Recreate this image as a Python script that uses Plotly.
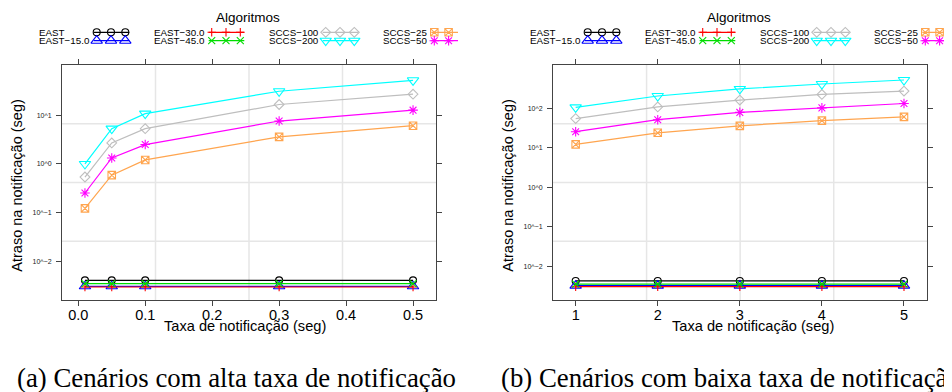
import plotly.graph_objects as go

# ---------------- data ----------------
series_names = ["EAST", "EAST-15.0", "EAST-30.0", "EAST-45.0",
                "SCCS-100", "SCCS-200", "SCCS-25", "SCCS-50"]
series_labels = ["EAST", "EAST\u221215.0", "EAST\u221230.0", "EAST\u221245.0",
                 "SCCS\u2212100", "SCCS\u2212200", "SCCS\u221225", "SCCS\u221250"]

x_high = [0.01, 0.05, 0.1, 0.3, 0.5]
x_low = [1, 2, 3, 4, 5]

high_east = [0.0041, 0.0041, 0.0041, 0.0041, 0.0041]
high_east15 = [0.0031, 0.0031, 0.0031, 0.0031, 0.0031]
high_east30 = [0.0030, 0.0030, 0.0030, 0.0030, 0.0030]
high_east45 = [0.0035, 0.0035, 0.0035, 0.0035, 0.0035]
high_sccs100 = [0.54, 2.7, 5.3, 16.6, 27]
high_sccs200 = [1.0, 5.3, 10.8, 31, 52]
high_sccs25 = [0.123, 0.59, 1.21, 3.6, 6.1]
high_sccs50 = [0.254, 1.33, 2.5, 7.6, 12.7]

low_east = [0.0042, 0.0042, 0.0042, 0.0042, 0.0042]
low_east15 = [0.0032, 0.0032, 0.0032, 0.0032, 0.0032]
low_east30 = [0.0030, 0.0030, 0.0030, 0.0030, 0.0030]
low_east45 = [0.0035, 0.0035, 0.0035, 0.0035, 0.0035]
low_sccs100 = [55, 109, 162, 226, 274]
low_sccs200 = [106, 206, 311, 415, 525]
low_sccs25 = [12.2, 24, 36, 49, 61]
low_sccs50 = [25.6, 51.6, 79, 103, 133]

high_values = [high_east, high_east15, high_east30, high_east45,
               high_sccs100, high_sccs200, high_sccs25, high_sccs50]
low_values = [low_east, low_east15, low_east30, low_east45,
              low_sccs100, low_sccs200, low_sccs25, low_sccs50]

x_high_ticks = [0.0, 0.1, 0.2, 0.3, 0.4, 0.5]
x_high_ticktext = ["0.0", "0.1", "0.2", "0.3", "0.4", "0.5"]
x_low_ticks = [1, 2, 3, 4, 5]
y_high_ticks = [0.01, 0.1, 1, 10]
y_high_ticktext = ["10^\u22122", "10^\u22121", "10^0", "10^1"]
y_low_ticks = [0.01, 0.1, 1, 10, 100]
y_low_ticktext = ["10^\u22122", "10^\u22121", "10^0", "10^1", "10^2"]

# ---------------- styles ----------------
colors = ["#000000", "#0000FF", "#FF0000", "#00DD00",
          "#BEBEBE", "#00FFFF", "#FFA54F", "#FF00FF"]
symbols = ["circle-open", "triangle-up-open", "cross-thin-open", "x-thin-open",
           "diamond-open", "triangle-down-open", "square-x-open", "asterisk-open"]
sizes = [7, 10, 6, 7, 7.5, 10, 7.5, 8]

# page has an 8px body margin: the figure is 944x384 drawn at (8, 8)
OFF = 8
W, H = 952 - OFF, 392 - OFF


def fx(px):
    return (px - OFF) / W


def fy(py):
    return 1 - (py - OFF) / H


SANS = "Liberation Sans, Arial, sans-serif"
SERIF = "Liberation Serif, Times New Roman, serif"

fig = go.Figure()

for vals_set, xs, xa, ya in [(high_values, x_high, "x", "y"), (low_values, x_low, "x2", "y2")]:
    for i, vals in enumerate(vals_set):
        fig.add_trace(go.Scatter(
            x=xs, y=vals, mode="lines+markers", xaxis=xa, yaxis=ya,
            line=dict(color=colors[i], width=1.2),
            marker=dict(symbol=symbols[i], size=sizes[i], color=colors[i],
                        line=dict(color=colors[i], width=1.1)),
            showlegend=False, hoverinfo="skip"))

# ---------------- custom lattice-style key ----------------
panel_offsets = [0, 491]
legend_axes = [("x3", "y3"), ("x4", "y3")]
col_text_x = [36.7, 151.7, 266.7, 380.7]
col_sample_x = [96.7, 211.7, 325.7, 434.3]
row_y = [32.3, 40.7]
step = 14.3

annotations = []
for p, off in enumerate(panel_offsets):
    xa, ya = legend_axes[p]
    for i, lab in enumerate(series_labels):
        c, r = i // 2, i % 2
        sx = col_sample_x[c] + off
        y = row_y[r]
        fig.add_trace(go.Scatter(
            x=[sx - 3, sx + 2 * step + 4], y=[y, y], mode="lines",
            xaxis=xa, yaxis=ya, line=dict(color=colors[i], width=1.2),
            showlegend=False, hoverinfo="skip"))
        fig.add_trace(go.Scatter(
            x=[sx + k * step for k in range(3)], y=[y] * 3, mode="markers",
            xaxis=xa, yaxis=ya,
            marker=dict(symbol=symbols[i], size=sizes[i], color=colors[i],
                        line=dict(color=colors[i], width=1.1)),
            showlegend=False, hoverinfo="skip"))
        annotations.append(dict(
            x=fx(col_text_x[c] + off), y=fy(y), xref="paper", yref="paper",
            text=lab, showarrow=False, xanchor="left", yanchor="middle",
            font=dict(family=SANS, size=9.8, color="#000")))
    annotations.append(dict(
        x=fx(248.3 + off), y=fy(17.3), xref="paper", yref="paper",
        text="Algoritmos", showarrow=False, xanchor="center", yanchor="middle",
        font=dict(family=SANS, size=13.5, color="#000")))
    annotations.append(dict(
        x=fx(16.7 + off), y=fy(186), xref="paper", yref="paper",
        text="Atraso na notificação (seg)", showarrow=False, textangle=-90,
        xanchor="center", yanchor="middle",
        font=dict(family=SANS, size=14.5, color="#000")))

annotations.append(dict(
    x=fx(245.3), y=fy(326), xref="paper", yref="paper",
    text="Taxa de notificação (seg)", showarrow=False, xanchor="center", yanchor="middle",
    font=dict(family=SANS, size=14.6, color="#000")))
annotations.append(dict(
    x=fx(752.6), y=fy(326), xref="paper", yref="paper",
    text="Taxa de notificação (seg)", showarrow=False, xanchor="center", yanchor="middle",
    font=dict(family=SANS, size=14.6, color="#000")))
annotations.append(dict(
    x=fx(15), y=fy(378), xref="paper", yref="paper",
    text="(a) Cenários com alta taxa de notificação", showarrow=False,
    xanchor="left", yanchor="middle", font=dict(family=SERIF, size=26.8, color="#000")))
annotations.append(dict(
    x=fx(498.7), y=fy(378), xref="paper", yref="paper",
    text="(b) Cenários com baixa taxa de notificação", showarrow=False,
    xanchor="left", yanchor="middle", font=dict(family=SERIF, size=26.8, color="#000")))

# grid lines at quarters of each panel (lattice panel.grid style)
shapes = []
for xr, yr in [("x domain", "y domain"), ("x2 domain", "y2 domain")]:
    for f in [0.25, 0.5, 0.75]:
        shapes.append(dict(type="line", xref=xr, yref=yr, x0=f, x1=f, y0=0, y1=1,
                           line=dict(color="#E6E6E6", width=1.5), layer="below"))
        shapes.append(dict(type="line", xref=xr, yref=yr, x0=0, x1=1, y0=f, y1=f,
                           line=dict(color="#E6E6E6", width=1.5), layer="below"))

axis_common = dict(showline=True, linecolor="#444", linewidth=1, mirror="ticks",
                   ticks="outside", ticklen=5, tickcolor="#444", tickwidth=1,
                   showgrid=False, zeroline=False)

ydom = [fy(300), fy(65)]

fig.update_layout(
    width=W, height=H, margin=dict(l=0, r=0, t=0, b=0),
    paper_bgcolor="white", plot_bgcolor="rgba(0,0,0,0)",
    showlegend=False,
    xaxis=dict(domain=[fx(62), fx(436)], range=[-0.0243, 0.5343], anchor="y",
               tickvals=x_high_ticks, ticktext=x_high_ticktext, ticklabelstandoff=-3,
               tickfont=dict(family=SANS, size=14.5, color="#000"), **axis_common),
    yaxis=dict(domain=ydom, type="log", range=[-2.79, 2.03], anchor="x",
               tickvals=y_high_ticks, ticktext=y_high_ticktext, ticklabelstandoff=3,
               tickfont=dict(family=SANS, size=7, color="#222"), **axis_common),
    xaxis2=dict(domain=[fx(553), fx(927.3)], range=[0.724, 5.284], anchor="y2",
                tickvals=x_low_ticks, ticklabelstandoff=-3,
                tickfont=dict(family=SANS, size=14.5, color="#000"), **axis_common),
    yaxis2=dict(domain=ydom, type="log", range=[-2.86, 3.10], anchor="x2",
                tickvals=y_low_ticks, ticktext=y_low_ticktext, ticklabelstandoff=3,
                tickfont=dict(family=SANS, size=7, color="#222"), **axis_common),
    xaxis3=dict(domain=[0, fx(458)], range=[OFF, 458], visible=False, anchor="y3"),
    xaxis4=dict(domain=[fx(476), 1], range=[476, 952], visible=False, anchor="y3"),
    yaxis3=dict(domain=[0, 1], range=[392, OFF], visible=False, anchor="x3"),
    annotations=annotations, shapes=shapes,
)

fig.write_html("out.html")
